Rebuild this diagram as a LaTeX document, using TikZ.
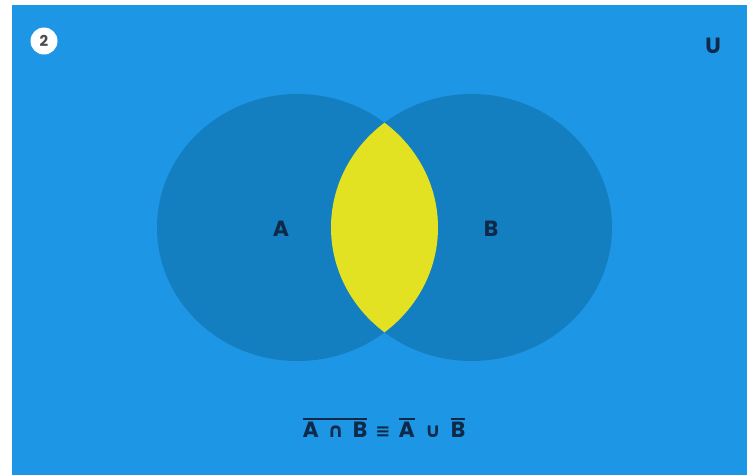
\documentclass[tikz,border=0pt]{standalone}
\usepackage{fontspec}
\setmainfont{Poppins}
\newfontfamily\symfont{DejaVu Sans}
\usetikzlibrary{positioning}
\definecolor{bgblue}{RGB}{30,150,230}
\definecolor{setblue}{RGB}{19,126,192}
\definecolor{lensyellow}{RGB}{226,226,34}
\definecolor{inkdark}{RGB}{14,42,72}
\newcommand{\ovl}[1]{\vbox{\hrule height 2pt\kern2.5pt\hbox{#1}}}

\begin{document}
\begin{tikzpicture}[x=1pt, y=-1pt, every node/.style={font=\fontsize{22}{26}\selectfont\bfseries, text=inkdark}]
            \tikzstyle{setfill}=[fill=setblue]
            \tikzstyle{badge}=[circle, fill=white, minimum size=27pt, inner sep=0pt, text=black!70, font=\fontsize{15}{17}\selectfont\bfseries]
            \tikzstyle{label}=[inner sep=1pt]

            \useasboundingbox (0,0) rectangle (747,475);
            \fill[white] (0,0) rectangle (747,475);
            \fill[bgblue] (12,5) rectangle (747,475);

            \fill[setfill] (297.5,227.5) ellipse (140.5 and 133.5);
            \fill[setfill] (471.5,227.5) ellipse (140.5 and 133.5);
            \begin{scope}
                \clip (297.5,227.5) ellipse (140.5 and 133.5);
                \fill[lensyellow] (471.5,227.5) ellipse (140.5 and 133.5);
            \end{scope}

            \node[badge] (num) at (44,41) {2};
            \node[label] (U) at (713,46) {U};
            \node[label] (A) at (281,229) {A};
            \node[label] (B) at (491,229) {B};
            \node[label, font=\fontsize{22}{24}\selectfont\bfseries] (law) at (384,428)
                {\ovl{A\hspace{9pt}{\symfont\fontsize{20}{22}\selectfont∩}\hspace{9pt}B}\hspace{8pt}{\symfont\fontsize{18}{20}\selectfont\bfseries≡}\hspace{8pt}\ovl{A}\hspace{10pt}{\symfont\fontsize{20}{22}\selectfont∪}\hspace{10pt}\ovl{B}};
        \end{tikzpicture}
\end{document}
